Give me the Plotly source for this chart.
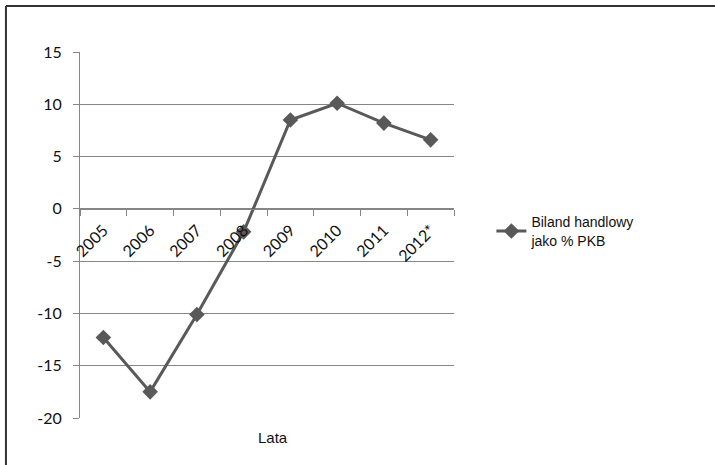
import plotly.graph_objects as go

# Trade balance as % of GDP, by year
years = ["2005", "2006", "2007", "2008", "2009", "2010", "2011", "2012*"]
balance = [-12.3, -17.5, -10.1, -2.2, 8.5, 10.1, 8.2, 6.6]

y_ticks = [-20, -15, -10, -5, 0, 5, 10, 15]
y_tick_text = ["-20", "-15", "-10", "-5", "0", "5", "10", "15"]

LINE = "#595959"
GRID = "#868686"
TEXT = "#111111"

fig = go.Figure()
fig.add_trace(go.Scatter(
    x=years,
    y=balance,
    mode="lines+markers",
    name="Biland handlowy<br>jako % PKB",
    line=dict(color=LINE, width=3),
    marker=dict(symbol="diamond", size=12, color=LINE),
))

y_min, y_max = -20, 15

fig.update_layout(
    width=715,
    height=465,
    margin=dict(l=80, r=261, t=52, b=47),
    paper_bgcolor="white",
    plot_bgcolor="white",
    font=dict(family="Lato, Liberation Sans, sans-serif", size=14, color=TEXT),
    showlegend=True,
    legend=dict(
        x=1.1, y=0.51, xanchor="left", yanchor="middle",
        font=dict(family="Liberation Sans, Arial, sans-serif", size=14, color=TEXT),
        bgcolor="rgba(0,0,0,0)",
    ),
    xaxis=dict(
        type="category",
        range=[-0.5, len(years) - 0.5],
        anchor="free",
        # category axis crosses the value axis at zero
        position=(0 - y_min) / (y_max - y_min),
        showline=True, linecolor=GRID, linewidth=1,
        ticks="outside", ticklen=6, tickcolor=GRID, tickson="boundaries",
        tickangle=-45,
        ticklabelstandoff=5,
        showgrid=False, zeroline=False,
        tickfont=dict(family="Lato, sans-serif", size=16, color=TEXT),
    ),
    yaxis=dict(
        range=[y_min, y_max],
        tickvals=y_ticks,
        ticktext=y_tick_text,
        showline=True, linecolor=GRID, linewidth=1,
        ticks="outside", ticklen=6, tickcolor=GRID,
        showgrid=True, gridcolor=GRID, gridwidth=1,
        zeroline=False,
        ticklabelstandoff=8,
        tickfont=dict(family="Lato, sans-serif", size=16, color=TEXT),
    ),
    annotations=[
        dict(
            text="Lata", x=0.516, y=-0.054, xref="paper", yref="paper",
            xanchor="center", yanchor="middle", showarrow=False,
            font=dict(family="Liberation Sans, Arial, sans-serif", size=15, color=TEXT),
        )
    ],
    shapes=[
        # chart frame (top and left edges)
        dict(type="line", xref="paper", yref="paper",
             x0=-0.198, x1=1.8, y0=1.1257, y1=1.1257,
             line=dict(color="#333333", width=2)),
        dict(type="line", xref="paper", yref="paper",
             x0=-0.198, x1=-0.198, y0=1.1257, y1=-0.2,
             line=dict(color="#333333", width=2)),
    ],
)

fig.write_html("out.html")
